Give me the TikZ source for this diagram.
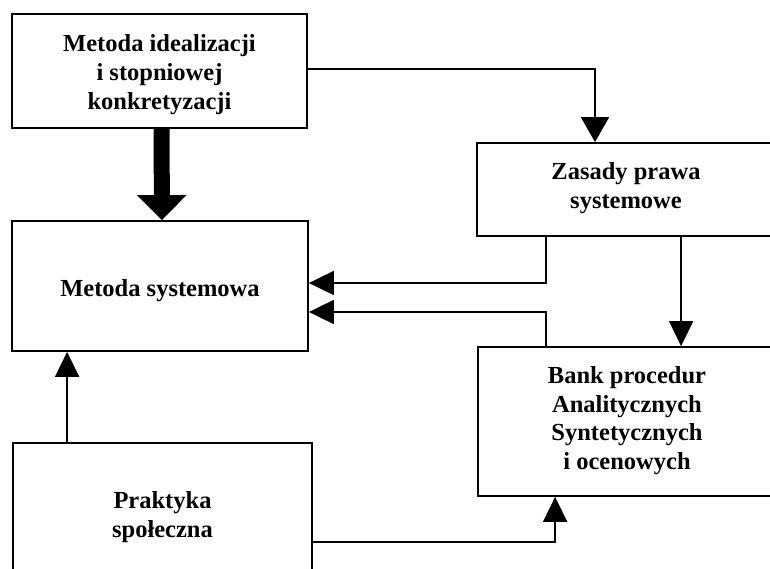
\documentclass[tikz,border=0pt]{standalone}
\usepackage{fontspec}
\setmainfont{Liberation Serif}
\usetikzlibrary{arrows.meta}
\begin{document}
\begin{tikzpicture}[x=1pt,y=-1pt,
  box/.style={draw,line width=1.8pt,inner sep=0pt},
  txt/.style={inner sep=0pt,align=center,
    font=\bfseries\fontsize{24.5}{29}\selectfont},
  link/.style={line width=1.8pt,line join=miter,
    -{Triangle[length=25pt,width=24pt]}},
  wide/.style={line width=1.8pt,line join=miter,
    -{Triangle[length=25pt,width=28pt]}},
  bold/.style={line width=16pt,-{Triangle[length=25pt,width=48pt]}}]
\useasboundingbox (0,0) rectangle (770,569);
\fill[white] (0,0) rectangle (770,569);

% blocks
\node[box,minimum width=295pt,minimum height=114pt] (ideal) at (159.5,71) {};
\node[box,minimum width=296pt,minimum height=130pt] (sys) at (160,286) {};
\node[box,minimum width=298pt,minimum height=93pt] (zasady) at (626,189.5) {};
\node[box,minimum width=298pt,minimum height=149pt] (bank) at (627,421.5) {};
\node[box,minimum width=299pt,minimum height=130pt] (prakt) at (162.5,508) {};

% block captions
\node[txt] (idealT) at ([yshift=-4pt]ideal.center)
  {Metoda idealizacji\\i stopniowej\\konkretyzacji};
\node[txt] (sysT) at ([yshift=-5pt]sys.center) {Metoda systemowa};
\node[txt] (zasadyT) at ([yshift=1pt]zasady.center) {Zasady prawa\\systemowe};
\node[txt,font=\bfseries\fontsize{24.5}{28.5}\selectfont] (bankT)
  at ([yshift=1pt]bank.center)
  {Bank procedur\\Analitycznych\\Syntetycznych\\i ocenowych};
\node[txt] (praktT) at ([yshift=-9pt]prakt.center) {Praktyka\\społeczna};

% connectors
\draw[bold] ([xshift=2pt]ideal.south) -- ([xshift=2pt]sys.north);
\draw[wide] ([yshift=2pt]ideal.east) -| ([xshift=-31pt]zasady.north);
\draw[link] ([xshift=70pt]zasady.south west) |- ([yshift=3pt]sys.east);
\draw[link] ([xshift=69pt]bank.north west) |- ([yshift=-26pt]sys.east);
\draw[link] ([xshift=205pt]zasady.south west) -- ([xshift=204pt]bank.north west);
\draw[link] ([xshift=55pt]prakt.north west) -- ([xshift=56pt]sys.south west);
\draw[link] ([yshift=-34pt]prakt.east) -| ([xshift=78pt]bank.south west);
\end{tikzpicture}
\end{document}
